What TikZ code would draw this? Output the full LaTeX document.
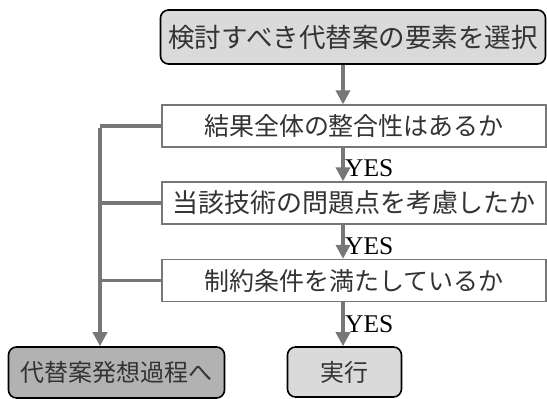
\documentclass[tikz,border=0pt]{standalone}
\usepackage{fontspec}
\setmainfont{Liberation Serif}
\newfontfamily\jp{Noto Sans CJK JP}
\usetikzlibrary{arrows.meta}
\definecolor{linegray}{HTML}{777777}
\definecolor{lightfill}{HTML}{DADADA}
\definecolor{darkfill}{HTML}{B2B2B2}
\definecolor{txt}{HTML}{333333}
\tikzset{
  termbox/.style={draw=black, line width=1.6pt, rounded corners=8pt, text=txt,
    inner sep=0pt, font=\jp\fontsize{24}{28}\selectfont},
  qbox/.style={draw=linegray, line width=1.3pt, fill=white, text=txt,
    inner sep=0pt, minimum width=384pt, minimum height=42pt,
    font=\jp\fontsize{25}{28}\selectfont},
  arr/.style={draw=linegray, line width=3.5pt, -{Triangle[width=14pt,length=14pt]}},
  ln/.style={draw=linegray, line width=3.5pt},
  yes/.style={text=black, inner sep=0pt, anchor=west, font=\fontsize{25.5}{28}\selectfont}
}
\begin{document}
\begin{tikzpicture}[x=1pt,y=-1pt]
\useasboundingbox (0,0) rectangle (547,399);
\node[termbox, fill=lightfill, minimum width=385pt, minimum height=54pt, font=\jp\fontsize{26.5}{30}\selectfont] (top) at (353,37) {検討すべき代替案の要素を選択};
\node[qbox] (q1) at (354,126) {結果全体の整合性はあるか};
\node[qbox, font=\jp\fontsize{26}{28}\selectfont] (q2) at (354,203) {当該技術の問題点を考慮したか};
\node[qbox] (q3) at (354,280.5) {制約条件を満たしているか};
\node[termbox, fill=darkfill, minimum width=216pt, minimum height=51pt] (alt) at (116.5,372.5) {代替案発想過程へ};
\node[termbox, fill=lightfill, minimum width=114pt, minimum height=50pt] (exec) at (344.5,372) {実行};
\coordinate (ax) at (343,0);
\coordinate (lx) at (100,0);
\draw[arr] (top.south -| ax) -- (q1.north -| ax);
\draw[arr] (q1.south -| ax) -- (q2.north -| ax);
\draw[arr] (q2.south -| ax) -- (q3.north -| ax);
\draw[arr] (q3.south -| ax) -- (exec.north -| ax);
\draw[ln] (q1.west) -- (q1.west -| lx);
\draw[ln] (q2.west) -- (q2.west -| lx);
\draw[ln] (q3.west) -- (q3.west -| lx);
\draw[arr] ([yshift=-1.75pt]q1.west -| lx) -- (alt.north -| lx);
\node[yes] (y1) at (345,168) {YES};
\node[yes] (y2) at (345,246) {YES};
\node[yes] (y3) at (345,324) {YES};
\end{tikzpicture}
\end{document}
